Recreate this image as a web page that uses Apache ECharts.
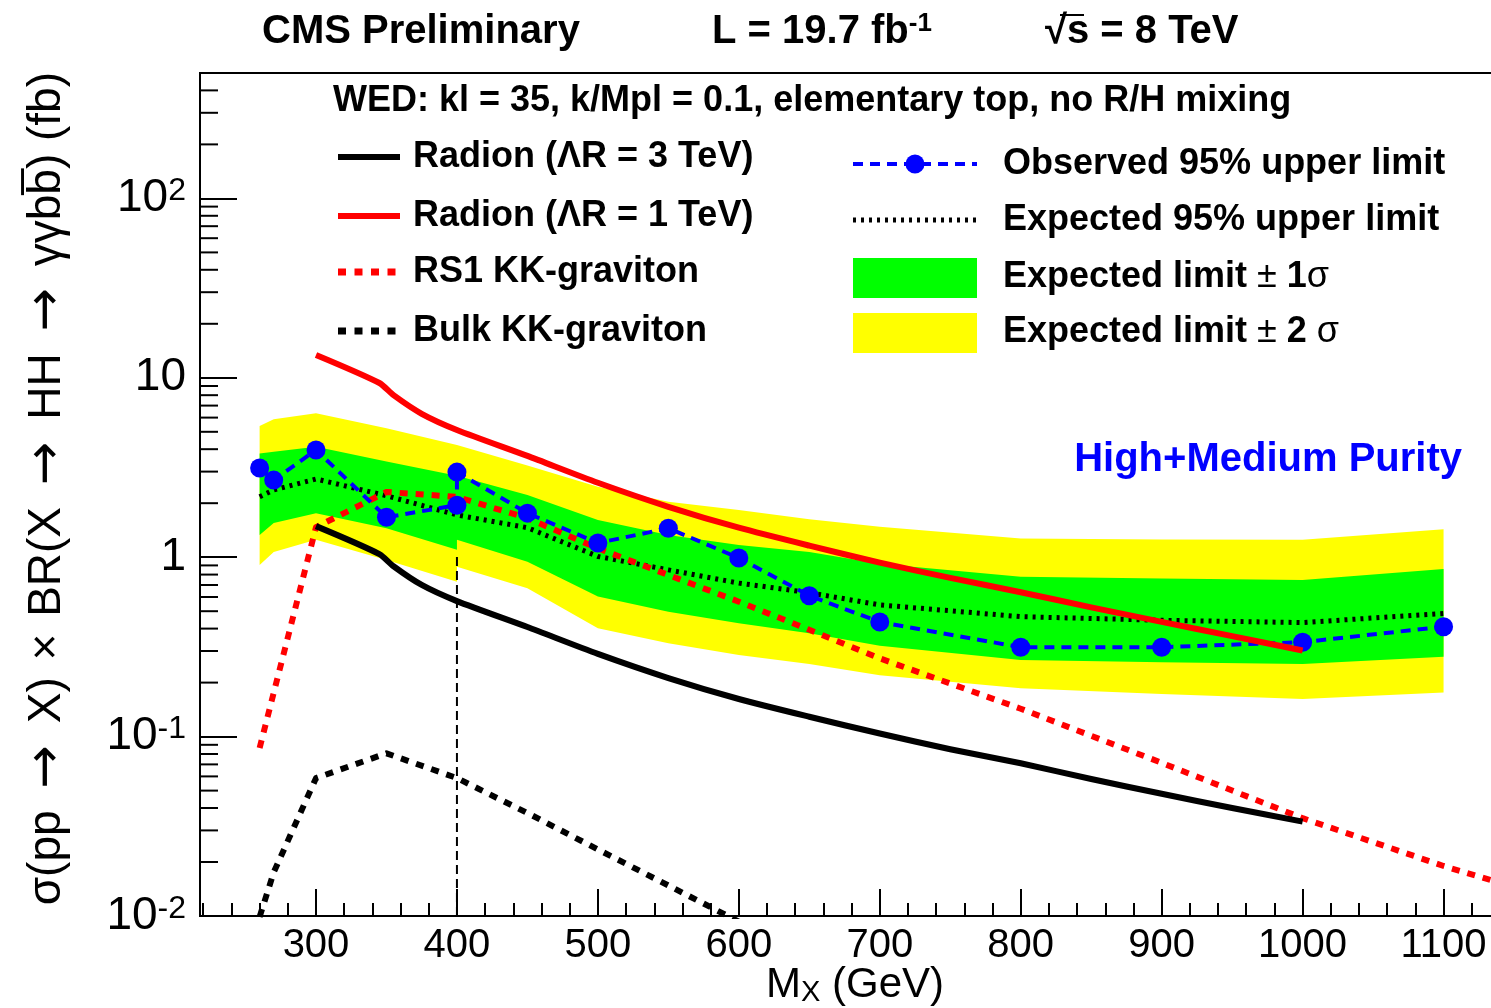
<!DOCTYPE html>
<html><head><meta charset="utf-8">
<script src="https://cdn.jsdelivr.net/npm/echarts@6/dist/echarts.min.js"></script>
<style>html,body{margin:0;padding:0;background:#fff}#c{width:1491px;height:1008px}</style>
</head><body><div id="c"></div>
<script>
// ---------------- data ----------------
const mass        = [260, 270, 300, 350, 400, 400, 450, 500, 550, 600, 650, 700, 800, 900, 1000, 1100];
const observed    = [3.14, 2.69, 3.96, 1.67, 1.95, 2.98, 1.76, 1.20, 1.45, 0.99, 0.61, 0.435, 0.315, 0.315, 0.336, 0.41];
const expected    = [2.17, 2.37, 2.73, 2.20, 1.72, 1.72, 1.46, 1.01, 0.85, 0.717, 0.634, 0.542, 0.466, 0.445, 0.432, 0.486];
const exp1sUp     = [3.79, 3.87, 4.13, 3.41, 2.84, 2.84, 2.22, 1.61, 1.33, 1.17, 1.07, 0.92, 0.778, 0.761, 0.746, 0.859];
const exp1sDown   = [1.33, 1.55, 1.76, 1.45, 1.10, 1.25, 0.944, 0.603, 0.496, 0.429, 0.377, 0.321, 0.267, 0.260, 0.254, 0.279];
const exp2sUp     = [5.39, 5.87, 6.34, 5.23, 4.22, 4.22, 3.24, 2.47, 2.04, 1.83, 1.63, 1.48, 1.27, 1.256, 1.25, 1.43];
const exp2sDown   = [0.906, 1.07, 1.25, 0.964, 0.729, 0.885, 0.671, 0.402, 0.331, 0.285, 0.254, 0.220, 0.186, 0.173, 0.162, 0.176];

const radionMass  = [300, 345, 355, 375, 400, 450, 500, 550, 600, 650, 700, 750, 800, 850, 900, 950, 1000];
const radion1TeV  = [13.4, 9.35, 8.0, 6.3, 5.12, 3.67, 2.60, 1.91, 1.46, 1.16, 0.933, 0.767, 0.638, 0.525, 0.436, 0.363, 0.302];
const radion3TeV  = [1.49, 1.04, 0.89, 0.70, 0.569, 0.408, 0.289, 0.212, 0.162, 0.129, 0.104, 0.085, 0.071, 0.058, 0.048, 0.040, 0.0336];

const rs1Mass     = [260, 300, 350, 400, 450, 500, 550, 600, 650, 700, 800, 900, 1000, 1100, 1150];
const rs1Graviton = [0.0863, 1.47, 2.31, 2.17, 1.65, 1.12, 0.796, 0.565, 0.394, 0.273, 0.143, 0.0714, 0.0351, 0.019, 0.0145];

const bulkMass     = [260, 270, 300, 350, 400, 450, 500, 550, 600];
const bulkGraviton = [0.0099, 0.0175, 0.0587, 0.0807, 0.0587, 0.0375, 0.0235, 0.0148, 0.0093];

const cutMass   = [400, 400];
const cutValues = [0.01, 1.05];

const X_MIN = 217.7, X_MAX = 1136.5;
const Y_MIN = 0.01, Y_MAX = 500;
const xMajorTicks = [300, 400, 500, 600, 700, 800, 900, 1000, 1100];
const xMinorTicks = [220, 240, 260, 280, 320, 340, 360, 380, 420, 440, 460, 480, 520, 540, 560, 580, 620, 640, 660, 680,
                     720, 740, 760, 780, 820, 840, 860, 880, 920, 940, 960, 980, 1020, 1040, 1060, 1080, 1120];
const yMinorTicks = [0.02, 0.03, 0.04, 0.05, 0.06, 0.07, 0.08, 0.09, 0.2, 0.3, 0.4, 0.5, 0.6, 0.7, 0.8, 0.9,
                     2, 3, 4, 5, 6, 7, 8, 9, 20, 30, 40, 50, 60, 70, 80, 90, 200, 300, 400];

// ---------------- chart ----------------
const FF = '"Liberation Sans", Arial, Helvetica, sans-serif';
const chart = echarts.init(document.getElementById('c'), null, {renderer: 'canvas'});

function pairs(xs, ys) { return xs.map((x, i) => [x, ys[i]]); }

function bandSeries(up, down, color, z) {
  return {
    type: 'custom', silent: true, z: z, clip: true,
    data: [[mass[0], up[0]]],
    renderItem: function (params, api) {
      const pts = [];
      for (let i = 0; i < mass.length; i++) pts.push(api.coord([mass[i], up[i]]));
      for (let i = mass.length - 1; i >= 0; i--) pts.push(api.coord([mass[i], down[i]]));
      return {type: 'polygon', shape: {points: pts}, style: {fill: color, stroke: null}};
    }
  };
}

function lineSeries(xs, ys, color, width, dash, z, smooth) {
  return {
    type: 'line', data: pairs(xs, ys), symbol: 'none', showSymbol: false, silent: true, z: z,
    clip: true, smooth: smooth || false,
    lineStyle: {color: color, width: width, type: dash || 'solid', cap: 'butt', join: 'round'}
  };
}

const supRich = {
  b: {fontSize: 46, fontFamily: FF, color: '#000', lineHeight: 46},
  s: {fontSize: 32, fontFamily: FF, color: '#000', verticalAlign: 'top', lineHeight: 30}
};

const option = {
  animation: false,
  backgroundColor: '#fff',
  grid: {left: 200, top: 73, right: -4, bottom: 92, show: true, borderColor: '#000', borderWidth: 2,
         containLabel: false, outerBoundsMode: 'none'},
  xAxis: [{
    type: 'value', min: X_MIN, max: X_MAX, position: 'bottom',
    axisLine: {show: true, lineStyle: {color: '#000', width: 2}},
    axisTick: {show: true, inside: true, length: 27, customValues: xMajorTicks, lineStyle: {color: '#000', width: 2}},
    axisLabel: {show: true, customValues: xMajorTicks, margin: 10, color: '#000', fontSize: 40, fontFamily: FF,
                formatter: function (v) { return String(Math.round(v)); }},
    splitLine: {show: false}
  }, {
    type: 'value', min: X_MIN, max: X_MAX, position: 'bottom', offset: 0,
    axisLine: {show: false},
    axisTick: {show: true, inside: true, length: 13, customValues: xMinorTicks, lineStyle: {color: '#000', width: 2}},
    axisLabel: {show: false},
    splitLine: {show: false}
  }],
  yAxis: {
    type: 'log', logBase: 10, min: Y_MIN, max: Y_MAX,
    axisLine: {show: true, lineStyle: {color: '#000', width: 2}},
    axisTick: {show: true, inside: true, length: 37, lineStyle: {color: '#000', width: 2}},
    axisLabel: {
      show: true, margin: 14, showMaxLabel: false,
      formatter: function (v) {
        const e = Math.round(Math.log10(v));
        if (e === 0) return '{b|1}';
        if (e === 1) return '{b|10}';
        return '{b|10}{s|' + e + '}';
      },
      rich: supRich
    },
    splitLine: {show: false}, minorTick: {show: false}
  },
  series: [
    bandSeries(exp2sUp, exp2sDown, '#ffff00', 1),
    bandSeries(exp1sUp, exp1sDown, '#00ff00', 2),
    lineSeries(cutMass, cutValues, '#000', 2, [9, 5], 3),
    lineSeries(mass, expected, '#000', 5, [3, 5], 4),
    lineSeries(bulkMass, bulkGraviton, '#000', 6, [8, 8], 5),
    lineSeries(rs1Mass, rs1Graviton, '#ff0000', 6, [8, 8], 5),
    {
      type: 'line', data: pairs(mass, observed), symbol: 'circle', symbolSize: 19, showSymbol: true,
      silent: true, z: 6, clip: true,
      itemStyle: {color: '#0000ff', borderWidth: 0},
      lineStyle: {color: '#0000ff', width: 4, type: [10, 7], cap: 'butt'}
    },
    lineSeries(radionMass, radion3TeV, '#000', 6, 'solid', 7, 0.25),
    lineSeries(radionMass, radion1TeV, '#ff0000', 6, 'solid', 7, 0.25),
    {
      type: 'custom', silent: true, z: 10, clip: false,
      data: yMinorTicks.map(v => [X_MIN, v]),
      renderItem: function (params, api) {
        const c = api.coord([api.value(0), api.value(1)]);
        return {type: 'line', shape: {x1: c[0], y1: c[1], x2: c[0] + 18, y2: c[1]},
                style: {stroke: '#000', lineWidth: 2}};
      }
    }
  ],
  graphic: []
};

// ---------------- texts & legend ----------------
const G = option.graphic;
function text(x, y, t, extra) {
  const st = Object.assign({text: t, fill: '#000', fontSize: 36, fontWeight: 'bold', fontFamily: FF,
                            align: 'left', verticalAlign: 'middle'}, extra || {});
  return {type: 'text', x: x, y: y, silent: true, z: 100, style: st};
}
function gline(x1, y1, x2, y2, color, w, dash) {
  return {type: 'line', silent: true, z: 100, shape: {x1: x1, y1: y1, x2: x2, y2: y2},
          style: {stroke: color, lineWidth: w, lineDash: dash || null}};
}

// header
G.push(text(262, 32, 'CMS Preliminary', {fontSize: 40}));
G.push(text(712, 32, '{b|L = 19.7 fb}{s|-1}', {rich: {
  b: {fontSize: 40, fontWeight: 'bold', fontFamily: FF, lineHeight: 42},
  s: {fontSize: 26, fontWeight: 'bold', fontFamily: FF, verticalAlign: 'top', lineHeight: 26}}}));
G.push(text(1045, 32, '\u221As = 8 TeV', {fontSize: 40}));
G.push(gline(1060, 15, 1084, 15, '#000', 2));

// axis titles
G.push({type: 'text', x: 944, y: 985, silent: true, z: 100, style: {
  text: '{n|M}{u|X}{n| (GeV)}', align: 'right', verticalAlign: 'middle', fill: '#000',
  rich: {n: {fontSize: 42, fontFamily: FF, lineHeight: 44},
         u: {fontSize: 29, fontFamily: FF, verticalAlign: 'bottom', lineHeight: 34}}}});
G.push({type: 'text', x: 47, y: 72, rotation: Math.PI / 2, silent: true, z: 100, style: {
  text: '{n|\u03C3(pp }{a|\u2192}{n| X) }{m|\u00D7}{n| BR(X }{a|\u2192}{n| HH }{a|\u2192}{n| \u03B3\u03B3bb\u0305) (fb)}',
  fill: '#000', align: 'right', verticalAlign: 'middle',
  rich: {n: {fontSize: 46, fontFamily: FF, lineHeight: 50},
         m: {fontSize: 46, fontFamily: FF, lineHeight: 50, padding: [0, 4]},
         a: {fontSize: 52, fontFamily: '"DejaVu Sans", sans-serif', lineHeight: 50, padding: [0, 9]}}}});

// legend header
G.push(text(333, 101, 'WED: kl = 35, k/Mpl = 0.1, elementary top, no R/H mixing', {fontSize: 36}));

// left legend
G.push(gline(338, 157, 400, 157, '#000', 6));
G.push(text(413, 157, 'Radion (\u039BR = 3 TeV)'));
G.push(gline(338, 216, 400, 216, '#ff0000', 6));
G.push(text(413, 216, 'Radion (\u039BR = 1 TeV)'));
G.push(gline(338, 272, 400, 272, '#ff0000', 7, [8, 8.5]));
G.push(text(413, 272, 'RS1 KK-graviton'));
G.push(gline(338, 331, 400, 331, '#000', 7, [8, 8.5]));
G.push(text(413, 331, 'Bulk KK-graviton'));

// right legend
G.push(gline(853, 164, 977, 164, '#0000ff', 4, [10, 7]));
G.push({type: 'circle', silent: true, z: 101, shape: {cx: 915, cy: 164, r: 9.5}, style: {fill: '#0000ff'}});
G.push(text(1003, 164, 'Observed 95% upper limit'));
G.push(gline(853, 220, 977, 220, '#000', 5, [3, 5]));
G.push(text(1003, 220, 'Expected 95% upper limit'));
G.push({type: 'rect', silent: true, z: 100, shape: {x: 853, y: 258, width: 124, height: 40}, style: {fill: '#00ff00'}});
const legRich = {
  b: {fontSize: 36, fontWeight: 'bold', fontFamily: FF},
  r: {fontSize: 36, fontWeight: 'normal', fontFamily: FF}
};
G.push(text(1003, 277, '{b|Expected limit }{r|\u00B1}{b| 1}{r|\u03C3}', {rich: legRich}));
G.push({type: 'rect', silent: true, z: 100, shape: {x: 853, y: 313, width: 124, height: 40}, style: {fill: '#ffff00'}});
G.push(text(1003, 332, '{b|Expected limit }{r|\u00B1}{b| 2 }{r|\u03C3}', {rich: legRich}));

// purity label
G.push(text(1462, 460, 'High+Medium Purity', {fontSize: 40, fill: '#0000ff', align: 'right'}));

chart.setOption(option);
</script></body></html>
